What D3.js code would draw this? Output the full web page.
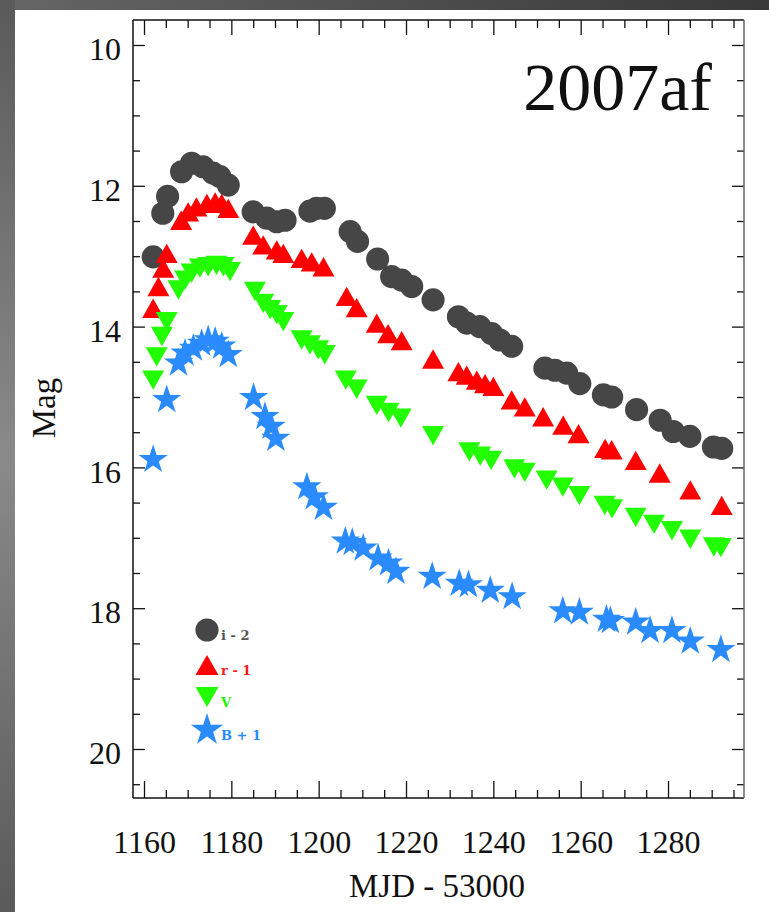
<!DOCTYPE html>
<html>
<head>
<meta charset="utf-8">
<script src="https://cdn.jsdelivr.net/npm/d3@7"></script>
<style>
  body { margin: 0; background: #fff; }
  .tick text { font-family: "Liberation Serif", "Times New Roman", serif; font-size: 32px; fill: #111; }
  .axis line { stroke: #111; stroke-width: 1.3; }
  .axis path { display: none; }
  .title { font-family: "Liberation Serif", serif; font-size: 68px; fill: #111; }
  .label { font-family: "Liberation Serif", serif; font-size: 33px; fill: #111; }
  .legend text { font-family: "DejaVu Serif", serif; font-size: 13px; font-weight: bold; }
</style>
</head>
<body>
<div id="chart"></div>
<script>
// i - 2 (grey circles)
var iMjd = [1162.1, 1164.3, 1165.4, 1168.6, 1170.9, 1173.5, 1175.8, 1177.4, 1179.3, 1185.0,
            1188.1, 1190.4, 1192.3, 1198.0, 1199.5, 1201.3, 1207.2, 1208.9, 1213.5, 1216.7,
            1219.0, 1221.3, 1226.2, 1232.0, 1233.9, 1236.9, 1239.6, 1241.5, 1244.2, 1251.8,
            1254.1, 1256.8, 1259.8, 1265.2, 1267.1, 1272.8, 1278.2, 1281.2, 1285.0, 1290.4, 1292.3];
var iMag = [13.01, 12.39, 12.15, 11.80, 11.68, 11.73, 11.82, 11.87, 11.99, 12.37,
            12.46, 12.51, 12.49, 12.36, 12.32, 12.32, 12.65, 12.79, 13.04, 13.29,
            13.34, 13.43, 13.62, 13.86, 13.95, 14.00, 14.10, 14.19, 14.28, 14.59,
            14.62, 14.66, 14.81, 14.97, 15.00, 15.18, 15.33, 15.49, 15.56, 15.71, 15.73];

// r - 1 (red triangles)
var rMjd = [1162.1, 1163.3, 1164.4, 1165.2, 1168.5, 1170.1, 1172.0, 1174.4, 1176.3, 1177.8,
            1179.3, 1185.0, 1187.3, 1190.4, 1191.9, 1196.1, 1198.4, 1201.1, 1206.4, 1208.7,
            1213.3, 1215.9, 1219.0, 1226.2, 1232.0, 1233.9, 1236.2, 1238.1, 1240.0, 1244.2,
            1247.2, 1251.4, 1256.0, 1259.5, 1265.6, 1267.1, 1272.6, 1278.1, 1285.1, 1292.3];
var rMag = [13.74, 13.43, 13.17, 12.96, 12.49, 12.37, 12.30, 12.25, 12.23, 12.25,
            12.32, 12.70, 12.84, 12.91, 12.96, 13.03, 13.08, 13.15, 13.57, 13.73,
            13.95, 14.10, 14.20, 14.46, 14.64, 14.69, 14.76, 14.81, 14.85, 15.04,
            15.14, 15.28, 15.40, 15.52, 15.73, 15.75, 15.90, 16.08, 16.32, 16.54];

// V (green inverted triangles)
var vMjd = [1162.1, 1162.9, 1164.1, 1165.2, 1167.9, 1169.4, 1170.9, 1172.8, 1174.7, 1176.6,
            1178.2, 1179.7, 1185.4, 1187.3, 1188.9, 1190.4, 1191.9, 1196.1, 1198.0, 1199.9,
            1201.4, 1206.2, 1208.7, 1213.3, 1216.0, 1218.8, 1226.2, 1234.5, 1237.0, 1239.5,
            1244.8, 1247.2, 1252.2, 1255.9, 1259.7, 1265.5, 1267.2, 1272.6, 1276.8, 1280.9,
            1285.1, 1290.5, 1292.1];
var vMag = [14.76, 14.43, 14.14, 13.93, 13.48, 13.34, 13.24, 13.17, 13.15, 13.13,
            13.15, 13.22, 13.50, 13.67, 13.76, 13.83, 13.93, 14.19, 14.26, 14.33,
            14.40, 14.76, 14.89, 15.12, 15.22, 15.30, 15.55, 15.78, 15.84, 15.90,
            16.02, 16.07, 16.18, 16.28, 16.40, 16.54, 16.59, 16.71, 16.81, 16.90,
            17.02, 17.13, 17.14];

// B + 1 (blue stars)
var bMjd = [1162.1, 1165.2, 1167.9, 1169.4, 1171.3, 1173.2, 1174.7, 1176.3, 1177.8, 1179.3,
            1185.1, 1187.7, 1189.1, 1190.2, 1197.3, 1199.0, 1201.1, 1206.1, 1207.7, 1210.2,
            1213.6, 1216.0, 1217.7, 1226.0, 1232.2, 1234.3, 1239.3, 1244.3, 1255.9, 1259.7,
            1265.9, 1266.8, 1272.6, 1275.9, 1280.9, 1285.1, 1292.1];
var bMag = [15.89, 15.04, 14.52, 14.38, 14.31, 14.24, 14.19, 14.21, 14.28, 14.40,
            15.01, 15.28, 15.42, 15.59, 16.28, 16.42, 16.57, 17.05, 17.07, 17.15,
            17.29, 17.36, 17.48, 17.55, 17.65, 17.67, 17.75, 17.84, 18.04, 18.06,
            18.16, 18.18, 18.20, 18.32, 18.32, 18.47, 18.59];

var seriesLabels = ["i - 2", "r - 1", "V", "B + 1"];
var xTicks = [1160, 1180, 1200, 1220, 1240, 1260, 1280];
var yTicks = [10, 12, 14, 16, 18, 20];

var margin = {top: 20, right: 25, bottom: 114, left: 133},
    width = 769,
    height = 912,
    w = width - margin.left - margin.right,
    h = height - margin.top - margin.bottom;

// custom triangle: bounding box centred on the point
function triangle(up) {
  return {
    draw: function(ctx, size) {
      var hw = size / 2, hh = size * 0.44;
      var s = up ? 1 : -1;
      ctx.moveTo(0, -s * hh);
      ctx.lineTo(hw, s * hh);
      ctx.lineTo(-hw, s * hh);
      ctx.closePath();
    }
  };
}

var series = [
  {label: seriesLabels[0], mjd: iMjd, mag: iMag, color: "#464646", text: "#555",    type: d3.symbolCircle, size: 420, lsize: 420},
  {label: seriesLabels[1], mjd: rMjd, mag: rMag, color: "#ff0000", text: "#ff1a1a", type: triangle(true),  size: 22,  lsize: 23},
  {label: seriesLabels[2], mjd: vMjd, mag: vMag, color: "#22ff00", text: "#22ee00", type: triangle(false), size: 22,  lsize: 23},
  {label: seriesLabels[3], mjd: bMjd, mag: bMag, color: "#2a8bff", text: "#2a8bff", type: d3.symbolStar,   size: 265, lsize: 320}
];

var x = d3.scaleLinear().domain([1157.48, 1297.4]).range([0, w]),
    y = d3.scaleLinear().domain([9.645, 20.696]).range([0, h]);

var svg = d3.select("#chart").append("svg")
    .attr("width", width)
    .attr("height", height);

// grey page border
var defs = svg.append("defs");
var gl = defs.append("linearGradient").attr("id", "gleft").attr("x1", 0).attr("x2", 0).attr("y1", 0).attr("y2", 1);
gl.append("stop").attr("offset", "0%").attr("stop-color", "#5a5a5a");
gl.append("stop").attr("offset", "50%").attr("stop-color", "#8a8a8a");
gl.append("stop").attr("offset", "100%").attr("stop-color", "#5a5a5a");
var gt = defs.append("linearGradient").attr("id", "gtop");
gt.append("stop").attr("offset", "0%").attr("stop-color", "#666");
gt.append("stop").attr("offset", "100%").attr("stop-color", "#383838");

svg.append("rect").attr("width", width).attr("height", 10).attr("fill", "url(#gtop)");
svg.append("rect").attr("width", 15).attr("height", height).attr("fill", "url(#gleft)");

var g = svg.append("g")
    .attr("transform", "translate(" + margin.left + "," + margin.top + ")");

var minorX = d3.range(1160, 1296, 5).filter(function(d) { return d % 20 !== 0; }),
    minorY = d3.range(10, 20.6, 0.5).filter(function(d) { return d % 2 !== 0; });

// bottom
g.append("g").attr("class", "axis")
    .attr("transform", "translate(0," + h + ")")
    .call(d3.axisBottom(x).tickValues(xTicks).tickSizeInner(-17).tickSizeOuter(0).tickPadding(32).tickFormat(d3.format("d")));
g.append("g").attr("class", "axis")
    .attr("transform", "translate(0," + h + ")")
    .call(d3.axisBottom(x).tickValues(minorX).tickSizeInner(-8).tickSizeOuter(0).tickFormat(""));
// top
g.append("g").attr("class", "axis")
    .call(d3.axisTop(x).tickValues(xTicks).tickSizeInner(-15).tickSizeOuter(0).tickFormat(""));
g.append("g").attr("class", "axis")
    .call(d3.axisTop(x).tickValues(minorX).tickSizeInner(-8).tickSizeOuter(0).tickFormat(""));
// left
g.append("g").attr("class", "axis")
    .call(d3.axisLeft(y).tickValues(yTicks).tickSizeInner(-12).tickSizeOuter(0).tickPadding(12).tickFormat(d3.format("d")))
  .selectAll("text").attr("dy", "0.46em");
g.append("g").attr("class", "axis")
    .call(d3.axisLeft(y).tickValues(minorY).tickSizeInner(-7).tickSizeOuter(0).tickFormat(""));
// right
g.append("g").attr("class", "axis")
    .attr("transform", "translate(" + w + ",0)")
    .call(d3.axisRight(y).tickValues(yTicks).tickSizeInner(-12).tickSizeOuter(0).tickFormat(""));
g.append("g").attr("class", "axis")
    .attr("transform", "translate(" + w + ",0)")
    .call(d3.axisRight(y).tickValues(minorY).tickSizeInner(-7).tickSizeOuter(0).tickFormat(""));

// frame
g.append("line").attr("x1", 0).attr("x2", w).attr("y1", 0).attr("y2", 0).attr("stroke", "#111").attr("stroke-width", 1.5);
g.append("line").attr("x1", 0).attr("x2", w).attr("y1", h).attr("y2", h).attr("stroke", "#111").attr("stroke-width", 1.5);
g.append("line").attr("x1", 0).attr("x2", 0).attr("y1", 0).attr("y2", h).attr("stroke", "#111").attr("stroke-width", 1.5);
g.append("line").attr("x1", w).attr("x2", w).attr("y1", 0).attr("y2", h).attr("stroke", "#666").attr("stroke-width", 1.5);

// points
series.forEach(function(s) {
  var sym = d3.symbol().type(s.type).size(s.size);
  g.append("g")
    .selectAll("path")
    .data(s.mjd.map(function(d, i) { return {mjd: d, mag: s.mag[i]}; }))
    .enter().append("path")
      .attr("d", sym)
      .attr("fill", s.color)
      .attr("transform", function(d) { return "translate(" + x(d.mjd) + "," + y(d.mag) + ")"; });
});

// legend
var legend = g.append("g").attr("class", "legend")
    .attr("transform", "translate(" + (207 - margin.left) + "," + (630 - margin.top) + ")");
var rowY = [0, 35, 67, 100];
legend.selectAll("path")
  .data(series).enter()
  .append("path")
    .attr("d", function(d) { return d3.symbol().type(d.type).size(d.lsize)(); })
    .attr("fill", function(d) { return d.color; })
    .attr("transform", function(d, i) { return "translate(0," + rowY[i] + ")"; });
legend.selectAll("text")
  .data(series).enter()
  .append("text")
    .attr("x", 14)
    .attr("y", function(d, i) { return rowY[i] + 10; })
    .attr("fill", function(d) { return d.text; })
    .text(function(d) { return d.label; });

// title + axis labels
g.append("text").attr("class", "title")
    .attr("x", 712 - margin.left)
    .attr("y", 110 - margin.top)
    .style("text-anchor", "end")
    .text("2007af");

svg.append("text").attr("class", "label")
    .attr("transform", "translate(55,408) rotate(-90)")
    .style("text-anchor", "middle")
    .text("Mag");

svg.append("text").attr("class", "label")
    .attr("x", 437)
    .attr("y", 897)
    .style("text-anchor", "middle")
    .text("MJD - 53000");
</script>
</body>
</html>
